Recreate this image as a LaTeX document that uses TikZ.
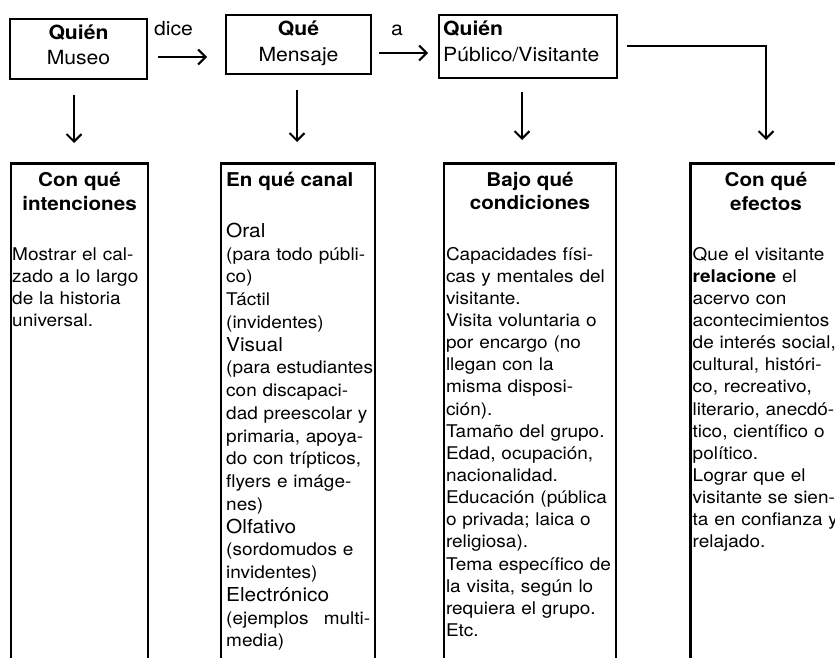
\documentclass[tikz,border=0pt]{standalone}
\usepackage{fontspec}
\setmainfont{TeX Gyre Heros}[FakeStretch=1.085]
\usetikzlibrary{arrows.meta}
\tikzset{
  box/.style={draw, line width=2.7pt, inner sep=0pt, outer sep=0pt},
  arr/.style={line width=2.1pt, -{Straight Barb[length=7.5pt,width=15pt]}},
  toptxt/.style={inner sep=0pt, font=\fontsize{19.5}{23}\selectfont},
  toptb/.style={inner sep=0pt, font=\bfseries\fontsize{19.5}{23}\selectfont},
  head/.style={inner sep=0pt, anchor=base, font=\bfseries\fontsize{19}{24}\selectfont},
  body/.style={inner sep=0pt, anchor=base west, align=left, text width=#1,
    font=\fontsize{17.5}{22.15}\selectfont},
}
\newcommand{\chan}[1]{{\fontsize{19.2}{22.75}\selectfont #1}}
\begin{document}
\begin{tikzpicture}[x=1pt,y=-1pt]
\path[use as bounding box] (0,0) rectangle (835,658);
\clip (0,0) rectangle (835,658);
% top boxes
\node[box, minimum width=137pt, minimum height=60pt] (A) at (78.5,49) {};
\node[box, minimum width=145pt, minimum height=59pt] (B) at (298.5,44.5) {};
\node[box, minimum width=178pt, minimum height=63pt] (C) at (528,46.5) {};
\node[toptb, anchor=base] (A1) at (78.5,39.3) {Quién};
\node[toptxt, anchor=base] (A2) at (78.5,65) {Museo};
\node[toptb, anchor=base] (B1) at (298.5,36) {Qué};
\node[toptxt, anchor=base] (B2) at (298.5,61.7) {Mensaje};
\node[toptb, anchor=base west] (C1) at (443,36) {Quién};
\node[toptxt, anchor=base west] (C2) at (443,61.7) {Público/Visitante};
\node[toptxt, anchor=base west] (L1) at (154,36) {dice};
\node[toptxt, anchor=base west] (L2) at (391,36) {a};
% columns
\node[box, minimum width=137pt, minimum height=520pt, anchor=north] (K1) at (79.5,163.5) {};
\node[box, minimum width=154pt, minimum height=520pt, anchor=north] (K2) at (298,163.5) {};
\node[box, minimum width=172pt, minimum height=520pt, anchor=north] (K3) at (530,163.5) {};
\node[box, minimum width=151pt, minimum height=520pt, anchor=north] (K4) at (766,163.5) {};
% headings
\node[head] (H1a) at (79.5,186) {Con qué};
\node[head] (H1b) at (79.5,210) {intenciones};
\node[head, anchor=base west] (H2) at (226,186) {En qué canal};
\node[head] (H3a) at (530,186) {Bajo qué};
\node[head] (H3b) at (530,209.5) {condiciones};
\node[head] (H4a) at (766,186) {Con qué};
\node[head] (H4b) at (766,210) {efectos};
% bodies
\node[body=170pt] (T1) at (12,260) {Mostrar el cal-\\zado a lo largo\\de la historia\\universal.};
\node[body=170pt, font=\fontsize{17.5}{22.75}\selectfont] (T2) at (226,237.3) {\chan{Oral}\\(para todo públi-\\co)\\Táctil\\(invidentes)\\\chan{Visual}\\(para estudiantes\\con discapaci-\\dad preescolar y\\primaria, apoya-\\do con trípticos,\\flyers e imáge-\\nes)\\\chan{Olfativo}\\(sordomudos e\\invidentes)\\\chan{Electrónico}\\\leavevmode\hbox to 144pt{(ejemplos\hfill multi-}\\media)};
\node[body=200pt] (T3) at (445.8,260) {Capacidades físi-\\cas y mentales del\\visitante.\\Visita voluntaria o\\por encargo (no\\llegan con la\\misma disposi-\\ción).\\Tamaño del grupo.\\Edad, ocupación,\\nacionalidad.\\Educación (pública\\o privada; laica o\\religiosa).\\Tema específico de\\la visita, según lo\\requiera el grupo.\\Etc.};
\node[body=200pt] (T4) at (692.5,260) {Que el visitante\\\textbf{relacione} el\\acervo con\\acontecimientos\\de interés social,\\cultural, históri-\\co, recreativo,\\literario, anecdó-\\tico, científico o\\político.\\Lograr que el\\visitante se sien-\\ta en confianza y\\relajado.};
% connectors
\draw[arr] ([xshift=11pt,yshift=-8pt]A.east) -- ([xshift=-19pt,yshift=-12.5pt]B.west);
\draw[arr] ([xshift=8pt,yshift=-8.5pt]B.east) -- ([xshift=-11pt,yshift=-6.5pt]C.west);
\draw[arr] ([xshift=-4.5pt,yshift=-16pt]A.south) -- ([xshift=-5.5pt,yshift=20.5pt]K1.north);
\draw[arr] ([xshift=-1.5pt,yshift=-16pt]B.south) -- ([xshift=-1pt,yshift=21.5pt]K2.north);
\draw[arr] ([xshift=-6pt,yshift=-14pt]C.south) -- ([xshift=-8pt,yshift=23.5pt]K3.north);
\draw[arr] ([xshift=10pt,yshift=0.8pt]C.east) -| ([yshift=23.5pt]K4.north);
\end{tikzpicture}
\end{document}
